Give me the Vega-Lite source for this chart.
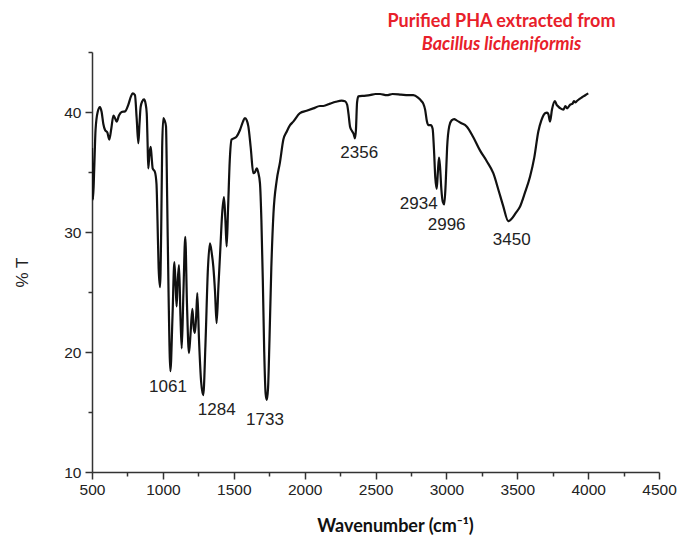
{
  "$schema": "https://vega.github.io/schema/vega-lite/v6.json",
  "width": 567,
  "height": 420,
  "autosize": {"type": "none"},
  "padding": {"left": 92, "top": 52, "right": 18, "bottom": 67},
  "background": "white",
  "config": {
    "view": {"stroke": null},
    "axis": {
      "grid": false,
      "labelFont": "Liberation Sans",
      "labelFontSize": 15.5,
      "labelColor": "#222222",
      "domainColor": "#333333",
      "tickColor": "#333333",
      "domainWidth": 1.5,
      "tickWidth": 1.5,
      "tickSize": 7
    }
  },
  "title": {
    "text": "Purified PHA extracted from",
    "subtitle": "Bacillus licheniformis",
    "anchor": "middle",
    "frame": "group",
    "dx": 126,
    "offset": -3,
    "font": "Lato",
    "fontSize": 18,
    "fontWeight": "bold",
    "color": "#e8202a",
    "subtitleFont": "Lato",
    "subtitleFontSize": 18,
    "subtitleFontWeight": "bold",
    "subtitleFontStyle": "italic",
    "subtitleColor": "#e8202a",
    "subtitlePadding": 5
  },
  "resolve": {"axis": {"x": "independent", "y": "independent"}},
  "datasets": {
    "spectrum": [
      {"w": 500, "t": 37.0}, {"w": 503, "t": 34.0}, {"w": 507, "t": 32.7}, {"w": 515, "t": 35.0},
      {"w": 525, "t": 38.5}, {"w": 540, "t": 40.0}, {"w": 556, "t": 40.4}, {"w": 568, "t": 40.0},
      {"w": 580, "t": 39.0}, {"w": 592, "t": 38.5}, {"w": 608, "t": 38.3}, {"w": 622, "t": 37.7},
      {"w": 636, "t": 38.6}, {"w": 651, "t": 39.7}, {"w": 662, "t": 39.5}, {"w": 674, "t": 39.2},
      {"w": 690, "t": 39.7}, {"w": 709, "t": 40.0}, {"w": 733, "t": 40.05}, {"w": 756, "t": 40.6},
      {"w": 775, "t": 41.3}, {"w": 787, "t": 41.55}, {"w": 803, "t": 41.4}, {"w": 815, "t": 39.5},
      {"w": 827, "t": 37.4}, {"w": 835, "t": 39.0}, {"w": 843, "t": 40.4}, {"w": 855, "t": 40.9},
      {"w": 867, "t": 41.05}, {"w": 878, "t": 40.7}, {"w": 886, "t": 39.9}, {"w": 892, "t": 37.5},
      {"w": 897, "t": 35.3}, {"w": 905, "t": 36.5}, {"w": 914, "t": 37.1}, {"w": 921, "t": 36.2},
      {"w": 928, "t": 35.3}, {"w": 944, "t": 35.0}, {"w": 955, "t": 34.0}, {"w": 962, "t": 31.0},
      {"w": 970, "t": 27.0}, {"w": 980, "t": 25.4}, {"w": 988, "t": 30.0}, {"w": 995, "t": 37.0},
      {"w": 1003, "t": 39.5}, {"w": 1012, "t": 39.3}, {"w": 1022, "t": 38.8}, {"w": 1030, "t": 33.0},
      {"w": 1040, "t": 25.0}, {"w": 1053, "t": 18.4}, {"w": 1068, "t": 23.0}, {"w": 1081, "t": 27.5},
      {"w": 1090, "t": 25.5}, {"w": 1097, "t": 23.8}, {"w": 1105, "t": 26.0}, {"w": 1114, "t": 27.25},
      {"w": 1124, "t": 23.0}, {"w": 1133, "t": 20.3}, {"w": 1145, "t": 25.0}, {"w": 1158, "t": 29.6},
      {"w": 1170, "t": 24.0}, {"w": 1184, "t": 19.9}, {"w": 1195, "t": 21.5}, {"w": 1208, "t": 23.6},
      {"w": 1218, "t": 22.0}, {"w": 1226, "t": 21.6}, {"w": 1235, "t": 23.0}, {"w": 1243, "t": 24.9},
      {"w": 1255, "t": 21.0}, {"w": 1270, "t": 17.5}, {"w": 1285, "t": 16.4}, {"w": 1300, "t": 20.5},
      {"w": 1318, "t": 27.0}, {"w": 1332, "t": 29.05}, {"w": 1344, "t": 28.3}, {"w": 1356, "t": 27.1},
      {"w": 1368, "t": 25.0}, {"w": 1379, "t": 22.4}, {"w": 1392, "t": 25.5}, {"w": 1405, "t": 28.5},
      {"w": 1418, "t": 31.5}, {"w": 1431, "t": 32.9}, {"w": 1441, "t": 31.0}, {"w": 1450, "t": 28.8},
      {"w": 1460, "t": 32.0}, {"w": 1472, "t": 36.0}, {"w": 1485, "t": 37.7}, {"w": 1500, "t": 37.8},
      {"w": 1520, "t": 37.95}, {"w": 1544, "t": 38.5}, {"w": 1565, "t": 39.2}, {"w": 1579, "t": 39.5},
      {"w": 1592, "t": 39.3}, {"w": 1603, "t": 38.8}, {"w": 1620, "t": 37.0}, {"w": 1638, "t": 34.9},
      {"w": 1650, "t": 35.0}, {"w": 1662, "t": 35.3}, {"w": 1672, "t": 35.0}, {"w": 1685, "t": 34.05},
      {"w": 1695, "t": 31.0}, {"w": 1705, "t": 26.0}, {"w": 1715, "t": 20.0}, {"w": 1725, "t": 16.5},
      {"w": 1733, "t": 16.0}, {"w": 1742, "t": 17.0}, {"w": 1752, "t": 21.0}, {"w": 1765, "t": 27.0},
      {"w": 1780, "t": 31.5}, {"w": 1803, "t": 34.3}, {"w": 1826, "t": 35.8}, {"w": 1850, "t": 37.7},
      {"w": 1875, "t": 38.4}, {"w": 1897, "t": 38.9}, {"w": 1920, "t": 39.2}, {"w": 1967, "t": 39.9},
      {"w": 2014, "t": 40.1}, {"w": 2061, "t": 40.3}, {"w": 2108, "t": 40.5}, {"w": 2132, "t": 40.5},
      {"w": 2180, "t": 40.7}, {"w": 2220, "t": 40.85}, {"w": 2261, "t": 40.95}, {"w": 2285, "t": 40.9},
      {"w": 2300, "t": 40.6}, {"w": 2310, "t": 39.8}, {"w": 2320, "t": 38.8}, {"w": 2335, "t": 38.4},
      {"w": 2345, "t": 38.2}, {"w": 2355, "t": 37.8}, {"w": 2362, "t": 38.5}, {"w": 2370, "t": 40.8},
      {"w": 2379, "t": 41.3}, {"w": 2420, "t": 41.35}, {"w": 2460, "t": 41.4}, {"w": 2500, "t": 41.5},
      {"w": 2532, "t": 41.5}, {"w": 2580, "t": 41.4}, {"w": 2620, "t": 41.5}, {"w": 2680, "t": 41.45},
      {"w": 2730, "t": 41.4}, {"w": 2767, "t": 41.4}, {"w": 2800, "t": 41.2}, {"w": 2825, "t": 40.9},
      {"w": 2837, "t": 40.7}, {"w": 2850, "t": 40.2}, {"w": 2863, "t": 39.2}, {"w": 2873, "t": 38.9},
      {"w": 2890, "t": 38.9}, {"w": 2903, "t": 38.6}, {"w": 2912, "t": 37.0}, {"w": 2922, "t": 34.5},
      {"w": 2932, "t": 33.6}, {"w": 2940, "t": 35.0}, {"w": 2948, "t": 36.2}, {"w": 2955, "t": 35.5},
      {"w": 2965, "t": 33.5}, {"w": 2975, "t": 32.5}, {"w": 2985, "t": 32.3}, {"w": 2995, "t": 34.0},
      {"w": 3005, "t": 37.0}, {"w": 3020, "t": 38.8}, {"w": 3037, "t": 39.3}, {"w": 3055, "t": 39.4},
      {"w": 3072, "t": 39.3}, {"w": 3100, "t": 39.1}, {"w": 3143, "t": 38.8}, {"w": 3190, "t": 37.9},
      {"w": 3237, "t": 36.8}, {"w": 3285, "t": 35.9}, {"w": 3331, "t": 34.9}, {"w": 3370, "t": 33.4},
      {"w": 3400, "t": 32.2}, {"w": 3437, "t": 30.9}, {"w": 3460, "t": 31.1}, {"w": 3490, "t": 31.6},
      {"w": 3519, "t": 32.1}, {"w": 3555, "t": 33.3}, {"w": 3590, "t": 34.6}, {"w": 3620, "t": 36.2},
      {"w": 3649, "t": 38.4}, {"w": 3670, "t": 39.3}, {"w": 3696, "t": 39.9}, {"w": 3710, "t": 39.95},
      {"w": 3720, "t": 39.8}, {"w": 3731, "t": 39.2}, {"w": 3745, "t": 40.2}, {"w": 3766, "t": 40.9},
      {"w": 3778, "t": 40.6}, {"w": 3790, "t": 40.45}, {"w": 3805, "t": 40.3}, {"w": 3825, "t": 40.2},
      {"w": 3840, "t": 40.5}, {"w": 3852, "t": 40.3}, {"w": 3872, "t": 40.6}, {"w": 3890, "t": 40.7},
      {"w": 3900, "t": 40.9}, {"w": 3910, "t": 40.8}, {"w": 3919, "t": 40.9}, {"w": 3940, "t": 41.1},
      {"w": 3960, "t": 41.25}, {"w": 3980, "t": 41.4}, {"w": 4001, "t": 41.55}
    ],
    "peaks": [
      {"w": 1036, "t": 17.1, "label": "1061"},
      {"w": 1380, "t": 15.2, "label": "1284"},
      {"w": 1720, "t": 14.3, "label": "1733"},
      {"w": 2385, "t": 36.6, "label": "2356"},
      {"w": 2805, "t": 32.3, "label": "2934"},
      {"w": 3002, "t": 30.55, "label": "2996"},
      {"w": 3461, "t": 29.3, "label": "3450"}
    ]
  },
  "layer": [
    {
      "data": {"name": "spectrum"},
      "mark": {"type": "line", "color": "#111111", "strokeWidth": 2.2, "interpolate": "monotone", "clip": true},
      "encoding": {
        "x": {
          "field": "w", "type": "quantitative",
          "scale": {"domain": [500, 4500], "nice": false, "zero": false},
          "axis": {
            "orient": "bottom",
            "values": [500, 1000, 1500, 2000, 2500, 3000, 3500, 4000, 4500],
            "format": "d",
            "labelPadding": 3,
            "labelFlush": false,
            "title": "Wavenumber (cm⁻¹)",
            "titleFont": "Lato",
            "titleFontSize": 18,
            "titleFontWeight": "bold",
            "titleColor": "#111111",
            "titleX": 303,
            "titleY": 54,
            "titleBaseline": "middle"
          }
        },
        "y": {
          "field": "t", "type": "quantitative",
          "scale": {"domain": [10, 45], "nice": false, "zero": false},
          "axis": {
            "orient": "left",
            "values": [10, 20, 30, 40],
            "labelPadding": 4,
            "labelFlush": false,
            "title": "% T",
            "titleFont": "Liberation Sans",
            "titleFontSize": 17,
            "titleFontWeight": "normal",
            "titleColor": "#222222",
            "titleAngle": -90,
            "titleX": -70,
            "titleY": 220,
            "titleBaseline": "middle",
            "titleAlign": "center"
          }
        }
      }
    },
    {
      "data": {"name": "peaks"},
      "mark": {"type": "text", "font": "Liberation Sans", "fontSize": 17, "color": "#222222", "align": "center", "baseline": "middle"},
      "encoding": {
        "x": {
          "field": "w", "type": "quantitative",
          "axis": {
            "orient": "bottom",
            "values": [750, 1250, 1750, 2250, 2750, 3250, 3750, 4250],
            "labels": false,
            "domain": false,
            "tickSize": 4,
            "title": null
          }
        },
        "y": {
          "field": "t", "type": "quantitative",
          "axis": {
            "orient": "left",
            "values": [15, 25, 35, 45],
            "labels": false,
            "domain": false,
            "tickSize": 4,
            "title": null
          }
        },
        "text": {"field": "label", "type": "nominal"}
      }
    }
  ]
}
